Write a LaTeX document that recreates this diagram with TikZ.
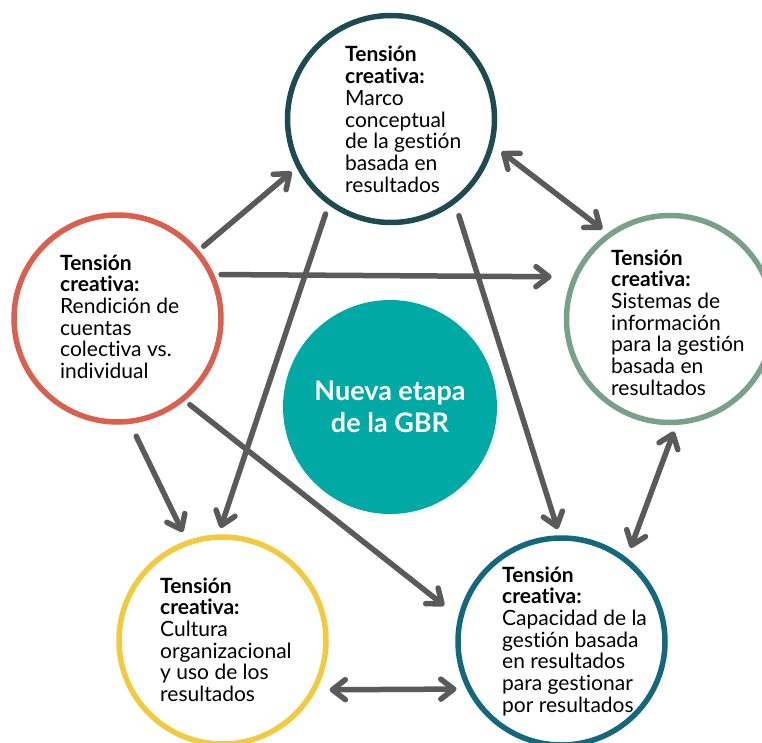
\documentclass[tikz,border=0pt]{standalone}
\usepackage{fontspec}
\setmainfont{Lato}[Ligatures=NoCommon]
\usetikzlibrary{arrows.meta}

\definecolor{arrowgray}{HTML}{5A5A5A}
\definecolor{marcocol}{HTML}{1E4B52}
\definecolor{rendcol}{HTML}{D9604F}
\definecolor{sistcol}{HTML}{79A088}
\definecolor{cultcol}{HTML}{F2CA3F}
\definecolor{capcol}{HTML}{14687D}
\definecolor{gbrcol}{HTML}{00A9A4}

\newcommand{\tensionbox}[1]{\parbox[t]{160pt}{\raggedright\textbf{Tensión}\\\textbf{creativa:}\\#1}}

\tikzset{
  ring/.style={circle, draw, line width=5.5pt, minimum size=207pt, inner sep=0pt, outer sep=9pt},
  tensiontxt/.style={anchor=base west, inner sep=0pt, font=\fontsize{21}{21.7}\selectfont},
  barb/.tip={Straight Barb[length=13pt,width=20pt,round]},
  flow/.style={draw=arrowgray, line width=5.5pt, line cap=round, -barb},
  both/.style={flow, barb-barb}
}

\begin{document}
\begin{tikzpicture}[x=1pt,y=-1pt]
  \useasboundingbox (0,0) rectangle (762,743);

  % centro
  \node[circle, fill=gbrcol, minimum size=214pt, inner sep=0pt, text=white, align=center,
        font=\bfseries\fontsize{27}{32}\selectfont] (gbr) at (390,407) {Nueva etapa\\de la GBR};

  % tensiones
  \node[ring, draw=marcocol] (marco) at (391,119) {};
  \node[ring, draw=rendcol] (rendicion) at (117.5,318.5) {};
  \node[ring, draw=sistcol] (sistemas) at (670,319) {};
  \node[ring, draw=cultcol] (cultura) at (222.5,640.5) {};
  \node[ring, draw=capcol] (capacidad) at (561.5,641.5) {};

  \node[tensiontxt] (marcotxt) at (345,62) {\tensionbox{Marco\\conceptual\\de la gestión\\basada en\\resultados}};
  \node[tensiontxt] (rendiciontxt) at (60,270) {\tensionbox{Rendición de\\cuentas\\colectiva vs.\\individual}};
  \node[tensiontxt] (sistemastxt) at (611,265) {\tensionbox{Sistemas de\\información\\para la gestión\\basada en\\resultados}};
  \node[tensiontxt] (culturatxt) at (160,593) {\tensionbox{Cultura\\organizacional\\y uso de los\\resultados}};
  \node[tensiontxt] (capacidadtxt) at (502,582) {\tensionbox{Capacidad de la\\gestión basada\\en resultados\\para gestionar\\por resultados}};

  % flechas
  \draw[flow] (rendicion.40.8) -- (marco.208.6);
  \draw[flow, shorten >=14pt] (rendicion.23.4) -- (sistemas.158.7);
  \draw[both, shorten <=3pt] (marco.344.5) -- (sistemas.127.3);
  \draw[flow, shorten <=3pt] (marco.235.5) -- (cultura.91.3);
  \draw[flow, shorten <=6pt] (marco.306.5) -- (capacidad.92.3);
  \draw[flow, shorten <=7pt, shorten >=3pt] (rendicion.278.4) -- (cultura.110);
  \draw[flow, shorten >=11pt] (rendicion.310.7) -- (capacidad.165.7);
  \draw[both, shorten >=4pt] (sistemas.272.5) -- (capacidad.53);
  \draw[both, shorten <=6pt, shorten >=3pt] (cultura.334.4) -- (capacidad.205.8);
\end{tikzpicture}
\end{document}
